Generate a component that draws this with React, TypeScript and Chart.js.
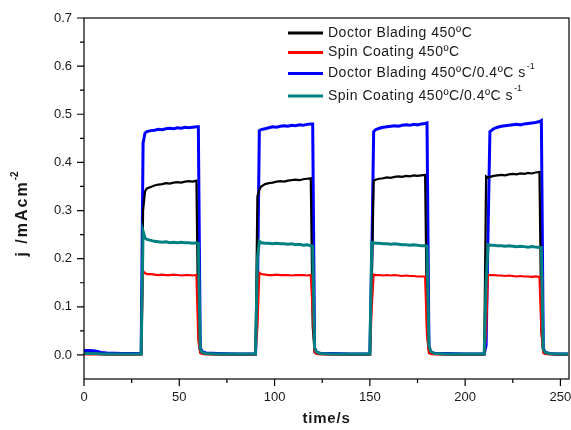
import React, { useEffect, useRef } from 'react';
import { Chart, registerables } from 'chart.js';

Chart.register(...registerables);

// ---------------- data ----------------
const time = [
  0, 3, 6, 9, 12, 20, 25, 30,
  31, 32, 33, 35, 37, 39, 41, 43, 45, 47, 49, 51, 53, 55, 57, 59, 60, 61, 62, 64,
  70, 80, 90,
  91, 92, 93, 95, 97, 99, 101, 103, 105, 107, 109, 111, 113, 115, 117, 119, 120, 121, 122, 124,
  130, 140, 150,
  151, 152, 153, 155, 157, 159, 161, 163, 165, 167, 169, 171, 173, 175, 177, 179, 180, 181, 182, 184,
  190, 200, 210,
  211, 212, 213, 215, 217, 219, 221, 223, 225, 227, 229, 231, 233, 235, 237, 239, 240, 241, 242, 244,
  248, 254,
];

const doctorBlading = [
  0.002, 0.002, 0.002, 0.002, 0.001, 0.001, 0.001, 0.001,
  0.300, 0.340, 0.346, 0.349, 0.352, 0.354, 0.355, 0.357, 0.356, 0.358, 0.359, 0.358, 0.360, 0.361, 0.360, 0.362, 0.040, 0.006, 0.003, 0.002,
  0.001, 0.001, 0.001,
  0.330, 0.343, 0.350, 0.355, 0.357, 0.358, 0.360, 0.361, 0.360, 0.362, 0.363, 0.364, 0.363, 0.365, 0.366, 0.367, 0.060, 0.006, 0.003, 0.002,
  0.001, 0.001, 0.001,
  0.150, 0.362, 0.364, 0.366, 0.367, 0.369, 0.368, 0.370, 0.371, 0.370, 0.372, 0.371, 0.373, 0.372, 0.373, 0.374, 0.050, 0.008, 0.003, 0.002,
  0.001, 0.001, 0.001,
  0.371, 0.368, 0.370, 0.372, 0.373, 0.374, 0.373, 0.375, 0.376, 0.375, 0.377, 0.376, 0.378, 0.377, 0.379, 0.380, 0.050, 0.007, 0.003, 0.002,
  0.001, 0.001,
];

const spinCoating = [
  0.001, 0.001, 0.001, 0.001, 0.001, 0.001, 0.001, 0.001,
  0.174, 0.170, 0.168, 0.168, 0.167, 0.166, 0.167, 0.166, 0.166, 0.167, 0.166, 0.165, 0.166, 0.166, 0.165, 0.166, 0.030, 0.004, 0.002, 0.001,
  0.001, 0.001, 0.001,
  0.060, 0.171, 0.168, 0.167, 0.166, 0.166, 0.167, 0.166, 0.166, 0.166, 0.165, 0.166, 0.166, 0.166, 0.165, 0.166, 0.090, 0.005, 0.002, 0.001,
  0.001, 0.001, 0.001,
  0.100, 0.167, 0.166, 0.166, 0.165, 0.166, 0.165, 0.166, 0.165, 0.164, 0.165, 0.164, 0.164, 0.163, 0.163, 0.163, 0.040, 0.004, 0.002, 0.001,
  0.001, 0.001, 0.001,
  0.050, 0.167, 0.166, 0.166, 0.165, 0.165, 0.164, 0.165, 0.164, 0.163, 0.164, 0.163, 0.163, 0.162, 0.163, 0.162, 0.050, 0.004, 0.002, 0.001,
  0.001, 0.001,
];

const doctorBladingRamp = [
  0.009, 0.009, 0.008, 0.005, 0.004, 0.003, 0.003, 0.003,
  0.440, 0.461, 0.464, 0.466, 0.467, 0.469, 0.468, 0.470, 0.471, 0.470, 0.472, 0.471, 0.473, 0.472, 0.473, 0.474, 0.474, 0.015, 0.007, 0.004,
  0.003, 0.002, 0.002,
  0.120, 0.466, 0.468, 0.470, 0.472, 0.474, 0.473, 0.475, 0.476, 0.475, 0.477, 0.476, 0.478, 0.477, 0.479, 0.480, 0.480, 0.014, 0.006, 0.003,
  0.003, 0.002, 0.002,
  0.200, 0.464, 0.468, 0.471, 0.473, 0.474, 0.475, 0.476, 0.475, 0.477, 0.478, 0.477, 0.479, 0.478, 0.480, 0.481, 0.482, 0.015, 0.006, 0.003,
  0.003, 0.002, 0.002,
  0.020, 0.250, 0.464, 0.470, 0.473, 0.475, 0.476, 0.477, 0.478, 0.479, 0.478, 0.480, 0.481, 0.482, 0.483, 0.485, 0.487, 0.014, 0.006, 0.003,
  0.002, 0.002,
];

const spinCoatingRamp = [
  0.003, 0.003, 0.003, 0.002, 0.002, 0.002, 0.002, 0.002,
  0.257, 0.243, 0.240, 0.238, 0.236, 0.235, 0.234, 0.235, 0.233, 0.234, 0.233, 0.234, 0.233, 0.233, 0.232, 0.233, 0.232, 0.012, 0.005, 0.003,
  0.002, 0.002, 0.002,
  0.200, 0.236, 0.233, 0.232, 0.232, 0.231, 0.232, 0.231, 0.231, 0.230, 0.231, 0.229, 0.230, 0.228, 0.229, 0.227, 0.226, 0.015, 0.006, 0.003,
  0.002, 0.002, 0.002,
  0.234, 0.233, 0.232, 0.232, 0.231, 0.231, 0.230, 0.231, 0.230, 0.229, 0.229, 0.228, 0.229, 0.228, 0.227, 0.227, 0.226, 0.020, 0.007, 0.003,
  0.002, 0.002, 0.002,
  0.150, 0.229, 0.228, 0.228, 0.227, 0.227, 0.226, 0.227, 0.226, 0.225, 0.226, 0.225, 0.224, 0.225, 0.224, 0.223, 0.223, 0.012, 0.005, 0.003,
  0.002, 0.002,
];

const seriesLabels = [
  'Doctor Blading 450ºC',
  'Spin Coating 450ºC',
  'Doctor Blading 450ºC/0.4ºC s⁻¹',
  'Spin Coating 450ºC/0.4ºC s⁻¹',
];
const seriesValues = [doctorBlading, spinCoating, doctorBladingRamp, spinCoatingRamp];
const seriesColors = ['#000000', '#ff0000', '#0000ff', '#008080'];
const seriesWidths = [2.2, 2.2, 3, 3];
const seriesOrder = [2, 1, 3, 0];

const xTitle = 'time/s';
const yTitleMain = 'j /mAcm';
const yTitleSup = '-2';

// ---------------- styling ----------------
const FONT = "'Liberation Sans', Arial, sans-serif";
const TEXT = '#1a1a1a';

const framePlugin = {
  id: 'frameAndDecor',
  afterDatasetsDraw(chart: any) {
    const { ctx, chartArea: a, scales } = chart;
    const xs = scales.x;
    const ys = scales.y;
    ctx.save();
    ctx.strokeStyle = '#000';
    ctx.lineWidth = 1.2;
    ctx.strokeRect(a.left, a.top, a.right - a.left, a.bottom - a.top);

    // y ticks
    const yMaj = ys.ticks.map((t: any) => t.value);
    ctx.beginPath();
    yMaj.forEach((v: number, i: number) => {
      const p = ys.getPixelForValue(v);
      ctx.moveTo(a.left - 7, p);
      ctx.lineTo(a.left, p);
      if (i < yMaj.length - 1) {
        const m = ys.getPixelForValue((v + yMaj[i + 1]) / 2);
        ctx.moveTo(a.left - 4, m);
        ctx.lineTo(a.left, m);
      }
    });
    // x ticks
    const xMaj = xs.ticks.map((t: any) => t.value);
    xMaj.forEach((v: number, i: number) => {
      const p = xs.getPixelForValue(v);
      ctx.moveTo(p, a.bottom);
      ctx.lineTo(p, a.bottom + 7);
      if (i < xMaj.length - 1) {
        const m = xs.getPixelForValue((v + xMaj[i + 1]) / 2);
        ctx.moveTo(m, a.bottom);
        ctx.lineTo(m, a.bottom + 4);
      }
    });
    ctx.stroke();

    // x title
    ctx.fillStyle = TEXT;
    ctx.font = `bold 15px ${FONT}`;
    (ctx as any).letterSpacing = '0.8px';
    ctx.textAlign = 'center';
    ctx.textBaseline = 'middle';
    ctx.fillText(xTitle, (a.left + a.right) / 2, 419);

    // y title (rotated)
    ctx.save();
    ctx.translate(22, 214);
    ctx.rotate(-Math.PI / 2);
    ctx.font = `bold 16px ${FONT}`;
    (ctx as any).letterSpacing = '2px';
    const wMain = ctx.measureText(yTitleMain).width;
    ctx.font = `bold 10px ${FONT}`;
    (ctx as any).letterSpacing = '0px';
    const wSup = ctx.measureText(yTitleSup).width;
    const start = -(wMain + wSup) / 2;
    ctx.textAlign = 'left';
    ctx.textBaseline = 'alphabetic';
    ctx.font = `bold 16px ${FONT}`;
    (ctx as any).letterSpacing = '2px';
    ctx.fillText(yTitleMain, start, 5);
    ctx.font = `bold 10px ${FONT}`;
    (ctx as any).letterSpacing = '0px';
    ctx.fillText(yTitleSup, start + wMain, -4);
    ctx.restore();

    // legend
    const rows = [33, 52.5, 73.5, 96];
    chart.data.datasets.forEach((ds: any, i: number) => {
      const y = rows[i];
      ctx.strokeStyle = ds.borderColor;
      ctx.lineWidth = 3;
      ctx.beginPath();
      ctx.moveTo(288, y);
      ctx.lineTo(323, y);
      ctx.stroke();
      let main = ds.label as string;
      let sup = '';
      if (main.endsWith('⁻¹')) {
        main = main.slice(0, -2);
        sup = '-1';
      }
      ctx.fillStyle = TEXT;
      ctx.font = `14px ${FONT}`;
      (ctx as any).letterSpacing = '0.5px';
      ctx.textAlign = 'left';
      ctx.textBaseline = 'middle';
      ctx.fillText(main, 328, y);
      if (sup) {
        const w = ctx.measureText(main).width;
        ctx.font = `9px ${FONT}`;
        (ctx as any).letterSpacing = '0px';
        ctx.fillText(sup, 328 + w + 1, y - 7);
      }
    });
    ctx.restore();
  },
};

export default function App() {
  const ref = useRef<HTMLCanvasElement>(null);
  useEffect(() => {
    const datasets = seriesLabels.map((label, i) => ({
      label,
      data: time.map((t, k) => ({ x: t, y: seriesValues[i][k] })),
      borderColor: seriesColors[i],
      backgroundColor: seriesColors[i],
      borderWidth: seriesWidths[i],
      pointRadius: 0,
      tension: 0,
      fill: false,
      order: seriesOrder[i],
    }));
    const chart = new Chart(ref.current as HTMLCanvasElement, {
      type: 'line',
      data: { datasets },
      plugins: [framePlugin],
      options: {
        responsive: false,
        animation: false,
        devicePixelRatio: 1,
        layout: { padding: { top: 18, right: 2, left: 0, bottom: 0 } },
        plugins: {
          legend: { display: false },
          tooltip: { enabled: false },
          title: { display: false },
        },
        scales: {
          x: {
            type: 'linear',
            min: 0,
            max: 254.5,
            afterFit: (s: any) => {
              s.height = 51;
              s.paddingLeft = 0;
              s.paddingRight = 0;
            },
            ticks: {
              stepSize: 50,
              includeBounds: false,
              autoSkip: false,
              maxRotation: 0,
              padding: 4,
              color: TEXT,
              font: { family: FONT, size: 13 },
              callback: (v: any) => String(Math.round(Number(v))),
            },
            grid: { drawOnChartArea: false, drawTicks: true, tickLength: 7, color: 'rgba(0,0,0,0)' },
            border: { display: false },
          },
          y: {
            type: 'linear',
            min: -0.05,
            max: 0.7,
            afterFit: (s: any) => {
              s.width = 84;
              s.paddingTop = 0;
              s.paddingBottom = 0;
            },
            ticks: {
              stepSize: 0.1,
              includeBounds: false,
              autoSkip: false,
              padding: 5,
              color: TEXT,
              font: { family: FONT, size: 13 },
              callback: (v: any) => Number(v).toFixed(1),
            },
            grid: { drawOnChartArea: false, drawTicks: true, tickLength: 7, color: 'rgba(0,0,0,0)' },
            border: { display: false },
          },
        },
      } as any,
    });
    return () => chart.destroy();
  }, []);
  return (
    <div style={{ position: 'absolute', left: 0, top: 0, width: 571, height: 430, background: '#fff' }}>
      <canvas ref={ref} width={571} height={430} style={{ display: 'block' }} />
    </div>
  );
}
